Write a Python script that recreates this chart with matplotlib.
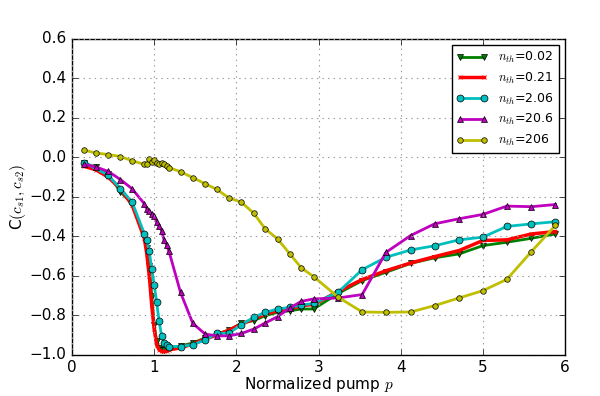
import numpy as np
import matplotlib
matplotlib.use('Agg')
import matplotlib.pyplot as plt

plt.style.use('classic')

# pump values (normalized)
x = [0.15, 0.29, 0.44, 0.59, 0.73, 0.88, 0.91, 0.94, 0.97, 1.0, 1.03, 1.06, 1.09,
     1.12, 1.15, 1.18, 1.32, 1.47, 1.62, 1.76, 1.91, 2.06, 2.21, 2.35, 2.5, 2.65,
     2.79, 2.94, 3.24, 3.53, 3.82, 4.12, 4.41, 4.71, 5.0, 5.29, 5.59, 5.88]
x_c = [v for v in x if v != 0.29]

c_002 = [-0.03, -0.05, -0.085, -0.175, -0.235, -0.40, -0.46, -0.55, -0.70, -0.85, -0.93,
         -0.965, -0.975, -0.975, -0.972, -0.968, -0.955, -0.94, -0.915, -0.895, -0.875,
         -0.84, -0.827, -0.802, -0.785, -0.777, -0.768, -0.768, -0.689, -0.624, -0.582,
         -0.537, -0.509, -0.489, -0.447, -0.43, -0.41, -0.388]
c_021 = [-0.046, -0.063, -0.10, -0.16, -0.24, -0.41, -0.49, -0.60, -0.75, -0.87, -0.95,
         -0.975, -0.983, -0.983, -0.98, -0.975, -0.965, -0.945, -0.92, -0.9, -0.875,
         -0.845, -0.819, -0.794, -0.777, -0.768, -0.751, -0.745, -0.679, -0.619, -0.574,
         -0.535, -0.503, -0.472, -0.421, -0.418, -0.388, -0.376]
c_206 = [-0.027, -0.09, -0.16, -0.225, -0.387, -0.418, -0.476, -0.565, -0.645, -0.735,
         -0.83, -0.904, -0.94, -0.952, -0.958, -0.958, -0.949, -0.925, -0.892, -0.89,
         -0.848, -0.81, -0.785, -0.768, -0.76, -0.748, -0.74, -0.682, -0.569, -0.506,
         -0.469, -0.448, -0.418, -0.404, -0.35, -0.337, -0.326]
c_206b = [-0.036, -0.049, -0.071, -0.113, -0.159, -0.235, -0.26, -0.274, -0.286, -0.298,
          -0.325, -0.35, -0.371, -0.418, -0.443, -0.476, -0.684, -0.841, -0.895, -0.904,
          -0.904, -0.892, -0.87, -0.839, -0.807, -0.763, -0.729, -0.717, -0.712, -0.695,
          -0.481, -0.396, -0.337, -0.311, -0.289, -0.247, -0.25, -0.239]
c_206c = [0.036, 0.022, 0.014, 0.004, -0.017, -0.036, -0.034, -0.007, -0.022, -0.015,
          -0.029, -0.036, -0.029, -0.032, -0.046, -0.052, -0.073, -0.103, -0.134, -0.162,
          -0.206, -0.227, -0.283, -0.362, -0.413, -0.489, -0.56, -0.604, -0.709, -0.783,
          -0.785, -0.783, -0.751, -0.712, -0.675, -0.618, -0.477, -0.345]

fig = plt.figure(figsize=(6, 3.96), dpi=100, facecolor='white')
ax = fig.add_axes([0.12, 0.104, 0.822, 0.798])

ax.plot(x, c_002, color='g', marker='v', ms=4, lw=2, label=r'$n_{th}$=0.02')
ax.plot(x, c_021, color='r', marker='x', ms=3, lw=2.5, mec='r', label=r'$n_{th}$=0.21')
ax.plot(x_c, c_206, color='c', marker='o', ms=5, lw=2, label=r'$n_{th}$=2.06')
ax.plot(x, c_206b, color='m', marker='^', ms=4.5, lw=2, label=r'$n_{th}$=20.6')
ax.plot(x, c_206c, color='y', marker='o', ms=4, lw=2, label=r'$n_{th}$=206')

ax.set_xlim(0, 6)
ax.set_ylim(-1.0, 0.6)
ax.set_xticks(np.arange(0, 7, 1))
ax.set_yticks(np.arange(-1.0, 0.61, 0.2))
ax.grid(True, color='0.6', ls=':', lw=0.8)
ax.tick_params(labelsize=11, pad=4)
ax.set_xlabel(r'Normalized pump $p$', fontsize=11, labelpad=0)
ax.set_ylabel(r'C$(c_{s1},c_{s2})$', fontsize=11, labelpad=1)

leg = ax.legend(loc='upper right', fontsize=9, numpoints=2, handlelength=2.5,
                fancybox=False, borderaxespad=0.5, labelspacing=0.45)
leg.get_frame().set_edgecolor('black')

fig.savefig('out.png', dpi=100, facecolor='white')
